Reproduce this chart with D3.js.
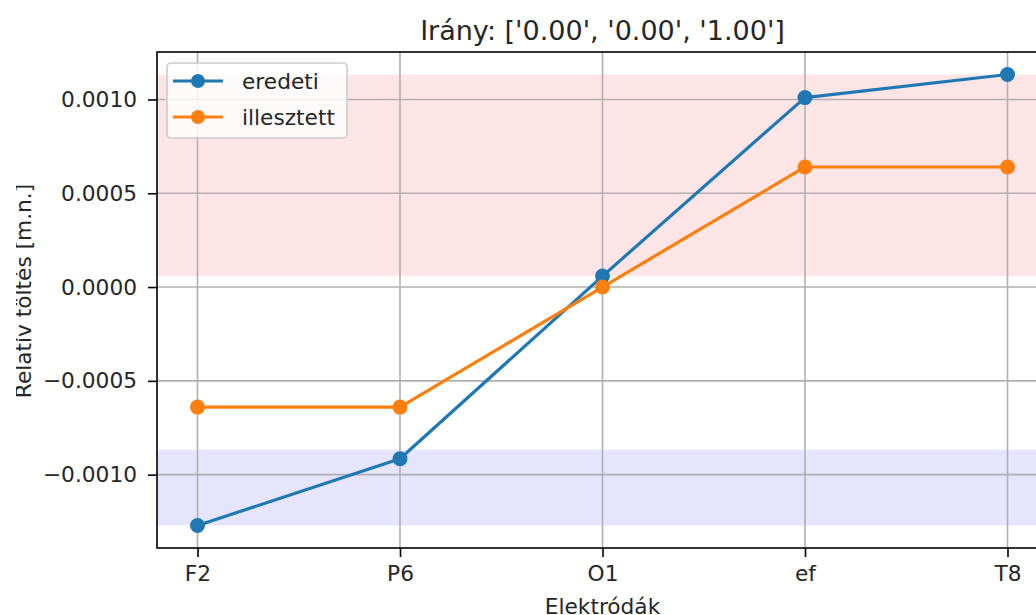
<!DOCTYPE html>
<html>
<head>
<meta charset="utf-8">
<script src="https://cdn.jsdelivr.net/npm/d3@7"></script>
<style>
  body { margin: 0; background: #fff; }
  svg { display: block; font-family: "DejaVu Sans", sans-serif; }
</style>
</head>
<body>
<div id="chart"></div>
<script>
const electrodes = ["F2", "P6", "O1", "ef", "T8"];
const eredeti = [-0.001271, -0.000915, 0.0000585, 0.00101, 0.001133];
const illesztett = [-0.00064, -0.00064, 0.0, 0.00064, 0.00064];
const yTicks = [-0.001, -0.0005, 0, 0.0005, 0.001];
const redBand = [0.0000585, 0.001133];
const blueBand = [-0.001271, -0.000867];

const width = 1036, height = 615;
const margin = {left: 157, right: 1048, top: 52, bottom: 548};
const fs = 21.7;

const svg = d3.select("#chart").append("svg")
    .attr("width", width)
    .attr("height", height);

const x = d3.scaleLinear().domain([-0.2, 4.2]).range([margin.left, margin.right]);
const y = d3.scaleLinear().domain([-0.001391, 0.001253]).range([margin.bottom, margin.top]);

const defs = svg.append("defs");
defs.append("clipPath").attr("id", "clip")
  .append("rect")
    .attr("x", margin.left).attr("y", margin.top)
    .attr("width", margin.right - margin.left)
    .attr("height", margin.bottom - margin.top);
// the reference has the top of the y label cut off
defs.append("clipPath").attr("id", "clipY")
  .append("rect").attr("x", 16).attr("y", 0).attr("width", 60).attr("height", height);

const plot = svg.append("g").attr("clip-path", "url(#clip)");

// shaded bands
plot.append("rect")
    .attr("x", margin.left).attr("width", margin.right - margin.left)
    .attr("y", y(redBand[1])).attr("height", y(redBand[0]) - y(redBand[1]))
    .attr("fill", "#ff0000").attr("fill-opacity", 0.1);
plot.append("rect")
    .attr("x", margin.left).attr("width", margin.right - margin.left)
    .attr("y", y(blueBand[1])).attr("height", y(blueBand[0]) - y(blueBand[1]))
    .attr("fill", "#0000ff").attr("fill-opacity", 0.1);

// grid
plot.append("g").selectAll("line").data(d3.range(electrodes.length)).enter().append("line")
    .attr("x1", d => x(d)).attr("x2", d => x(d))
    .attr("y1", margin.top).attr("y2", margin.bottom)
    .attr("stroke", "#b0b0b0").attr("stroke-width", 1.6);
plot.append("g").selectAll("line").data(yTicks).enter().append("line")
    .attr("y1", d => y(d)).attr("y2", d => y(d))
    .attr("x1", margin.left).attr("x2", margin.right)
    .attr("stroke", "#b0b0b0").attr("stroke-width", 1.6);

// series
const series = [
  {name: "eredeti", values: eredeti, color: "#1f77b4"},
  {name: "illesztett", values: illesztett, color: "#ff7f0e"}
];
const line = d3.line().x((d, i) => x(i)).y(d => y(d));
series.forEach(s => {
  plot.append("path")
      .attr("d", line(s.values))
      .attr("fill", "none")
      .attr("stroke", s.color)
      .attr("stroke-width", 3.2)
      .attr("stroke-linejoin", "round");
  plot.append("g").selectAll("circle").data(s.values).enter().append("circle")
      .attr("cx", (d, i) => x(i)).attr("cy", d => y(d))
      .attr("r", 7.5).attr("fill", s.color);
});

// axes
const xAxis = svg.append("g")
    .attr("transform", `translate(0,${margin.bottom})`)
    .call(d3.axisBottom(x).tickValues(d3.range(electrodes.length))
      .tickFormat(i => electrodes[i]).tickSize(9).tickPadding(9));
const yAxis = svg.append("g")
    .attr("transform", `translate(${margin.left},0)`)
    .call(d3.axisLeft(y).tickValues(yTicks).tickFormat(d3.format(".4f")).tickSize(9).tickPadding(11));
[xAxis, yAxis].forEach(a => {
  a.select(".domain").remove();
  a.selectAll("line").attr("stroke", "#000").attr("stroke-width", 1.6);
  a.selectAll("text").attr("font-size", fs).attr("fill", "#262626")
    .attr("font-family", "DejaVu Sans");
});

// spines
svg.append("rect")
    .attr("x", margin.left).attr("y", margin.top)
    .attr("width", margin.right - margin.left)
    .attr("height", margin.bottom - margin.top)
    .attr("fill", "none").attr("stroke", "#000").attr("stroke-width", 1.6);

// labels
svg.append("text")
    .attr("x", (margin.left + margin.right) / 2).attr("y", 40)
    .attr("text-anchor", "middle").attr("font-size", 27).attr("fill", "#262626")
    .text("Irány: ['0.00', '0.00', '1.00']");
svg.append("text")
    .attr("x", (margin.left + margin.right) / 2).attr("y", 614)
    .attr("text-anchor", "middle").attr("font-size", fs).attr("fill", "#262626")
    .text("Elektródák");
svg.append("g").attr("clip-path", "url(#clipY)")
  .append("text")
    .attr("transform", `translate(31,291) rotate(-90)`)
    .attr("text-anchor", "middle").attr("font-size", fs).attr("fill", "#262626")
    .text("Relatív töltés [m.n.]");

// legend
const legend = svg.append("g");
legend.append("rect")
    .attr("x", 167).attr("y", 63).attr("width", 180).attr("height", 75).attr("rx", 4)
    .attr("fill", "#fff").attr("fill-opacity", 0.8)
    .attr("stroke", "#cccccc").attr("stroke-width", 1.6);
series.forEach((s, i) => {
  const ly = 81 + i * 36;
  legend.append("line")
      .attr("x1", 173).attr("x2", 223).attr("y1", ly).attr("y2", ly)
      .attr("stroke", s.color).attr("stroke-width", 3.2);
  legend.append("circle").attr("cx", 198).attr("cy", ly).attr("r", 7).attr("fill", s.color);
  legend.append("text")
      .attr("x", 242).attr("y", ly + 8)
      .attr("font-size", fs).attr("fill", "#262626")
      .text(s.name);
});
</script>
</body>
</html>
